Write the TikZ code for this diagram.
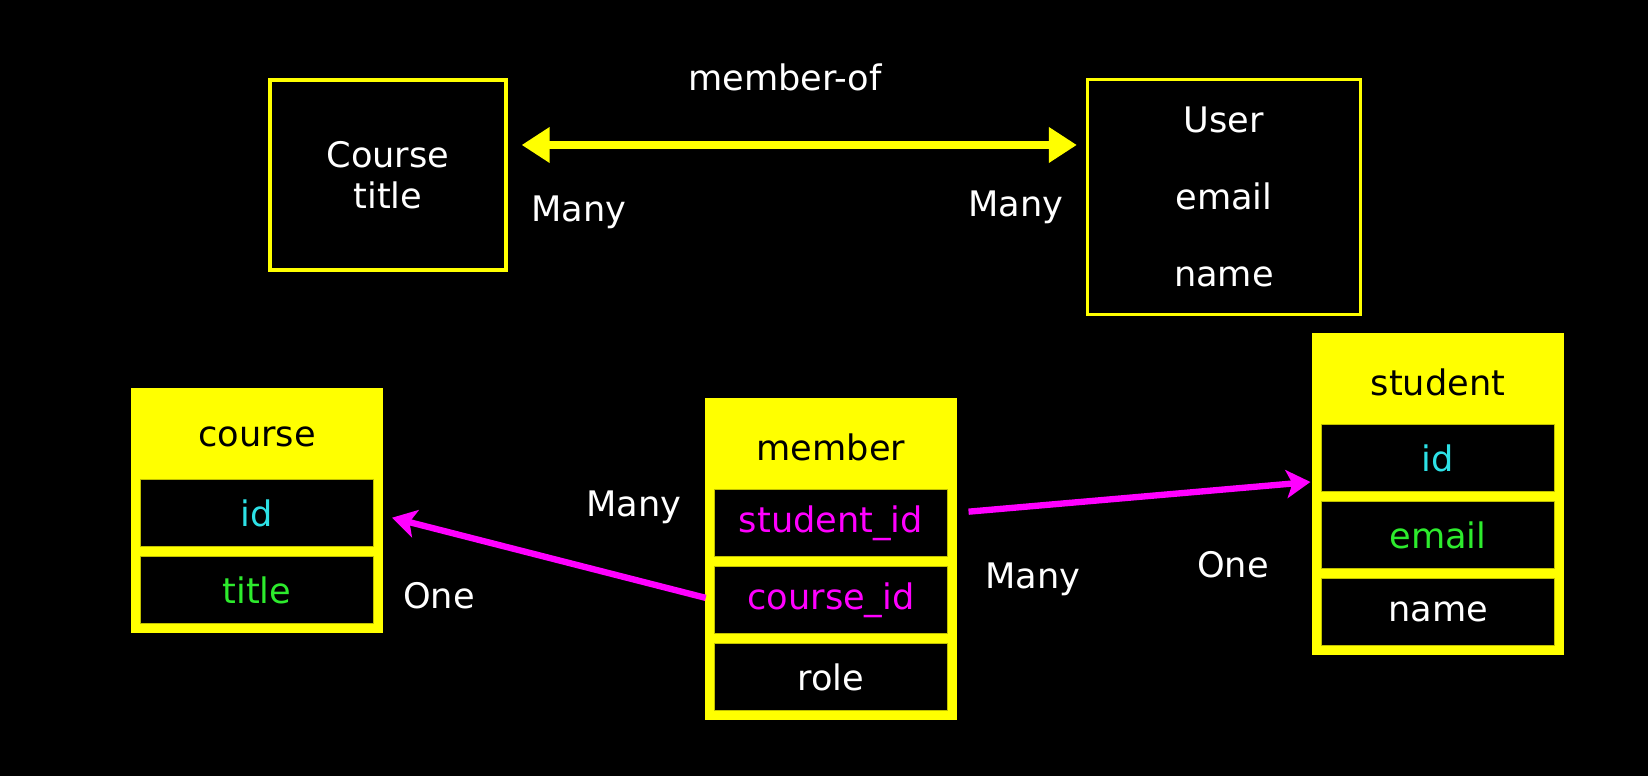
\documentclass[tikz,border=0pt]{standalone}
\usepackage{fontspec}
\setmainfont{DejaVu Sans}
\usetikzlibrary{arrows.meta, positioning, fit, backgrounds}
\usepackage{xcolor}
\definecolor{ermyellow}{RGB}{255, 255, 0}
\definecolor{ermmagenta}{RGB}{255, 0, 255}
\definecolor{ermcyan}{RGB}{45, 225, 230}
\definecolor{ermgreen}{RGB}{45, 235, 45}
\tikzset{
  ebox/.style={
    rectangle, draw=ermyellow, line width=0.9pt, fill=black,
    text=white, align=center,
    font=\fontsize{10}{11.5}\selectfont, inner sep=0pt
  },
  hbox/.style={
    rectangle, minimum width=2.32cm, minimum height=0.78cm,
    text=black, font=\fontsize{10}{12}\selectfont, inner sep=0pt
  },
  rbox/.style={
    rectangle, fill=black, draw=ermyellow!75!black, line width=0.3pt,
    minimum width=2.32cm, minimum height=0.67cm,
    font=\fontsize{10}{12}\selectfont, inner sep=0pt
  },
  tbox/.style={
    rectangle, fill=ermyellow, inner sep=0.09cm
  },
  lbl/.style={text=white, font=\fontsize{10}{12}\selectfont},
  yarr/.style={{Triangle[length=0.28cm, width=0.34cm]}-{Triangle[length=0.28cm, width=0.34cm]},
    line width=2.3pt, color=ermyellow},
  marr/.style={-{Stealth[length=0.24cm, width=0.28cm, inset=0.06cm]},
    line width=1.8pt, color=ermmagenta},
}

\begin{document}
\begin{tikzpicture}[x=0.01cm, y=-0.01cm]
  \begin{scope}[on background layer]
    \fill[black] (0,0) rectangle (1648,776);
  \end{scope}
  % upper diagram
  \node[ebox, minimum width=2.36cm, minimum height=1.9cm] (crs) at (388,175) {Course\\title};
  \node[ebox, minimum width=2.73cm, minimum height=2.35cm] (usr) at (1224,197)
    {User\\[10.5pt]email\\[10.5pt]name};
  \draw[yarr, shorten <=0.14cm, shorten >=0.09cm]
    ([yshift=0.3cm]crs.east) -- ([yshift=0.3cm]crs.east -| usr.west);
  \node[lbl] (mof) at (785,77) {member-of};
  \node[lbl] (mny1) at (579,212) {Many};
  \node[lbl] (mny2) at (1016,207) {Many};

  % course table
  \node[rbox, text=ermcyan] (cid) at (257,513) {id};
  \node[rbox, text=ermgreen, below=0.09cm of cid] (ctitle) {title};
  \node[hbox, above=0.02cm of cid] (chead) {course};
  \begin{scope}[on background layer]
    \node[tbox, fit=(chead)(cid)(ctitle)] (ctab) {};
  \end{scope}

  % member table
  \node[rbox, text=ermmagenta] (msid) at (831,523) {student\_id};
  \node[rbox, text=ermmagenta, below=0.09cm of msid] (mcid) {course\_id};
  \node[rbox, text=white, below=0.09cm of mcid] (mrole) {role};
  \node[hbox, above=0.02cm of msid] (mhead) {member};
  \begin{scope}[on background layer]
    \node[tbox, fit=(mhead)(msid)(mrole)] (mtab) {};
  \end{scope}

  % student table
  \node[rbox, text=ermcyan] (sid) at (1438,458) {id};
  \node[rbox, text=ermgreen, below=0.09cm of sid] (semail) {email};
  \node[rbox, text=white, below=0.09cm of semail] (sname) {name};
  \node[hbox, above=0.02cm of sid] (shead) {student};
  \begin{scope}[on background layer]
    \node[tbox, fit=(shead)(sid)(sname)] (stab) {};
  \end{scope}

  \draw[marr, shorten <=0.09cm, shorten >=0.19cm] (mcid.west) -- (cid.east);
  \draw[marr, shorten <=0.21cm, shorten >=0.11cm]
    ([yshift=0.095cm]msid.east) -- ([yshift=-0.23cm]sid.west);
  \node[lbl] (mny3) at (634,507) {Many};
  \node[lbl] (one1) at (439,596) {One};
  \node[lbl] (mny4) at (1033,579) {Many};
  \node[lbl] (one2) at (1233,565) {One};
\end{tikzpicture}
\end{document}
